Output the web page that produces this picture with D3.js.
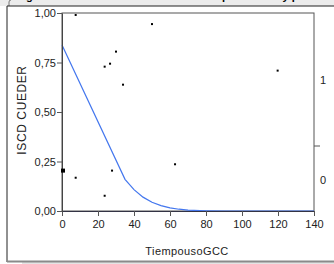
<!DOCTYPE html>
<html>
<head>
<meta charset="utf-8">
<script src="https://cdn.jsdelivr.net/npm/d3@7"></script>
<style>
  body { margin: 0; background: #fff; }
  svg text { font-family: "Liberation Sans", Arial, sans-serif; }
</style>
</head>
<body>
<div class="container"></div>
<script>
// scatter points (TiempousoGCC, ISCD CUEDER)
const pointX = [7.6, 50, 30, 26.7, 23.7, 33.9, 119.8, 7.6, 27.8, 23.7, 62.8];
const pointY = [0.99, 0.944, 0.805, 0.744, 0.729, 0.638, 0.709, 0.168, 0.204, 0.077, 0.236];
// the bigger marker at x = 0
const bigX = [0];
const bigY = [0.204];

// fitted curve
const curveX = [0, 35, 40, 45, 50, 55, 60, 65, 70, 80, 90, 140];
const curveY = [0.838, 0.16, 0.108, 0.07, 0.044, 0.027, 0.016, 0.009, 0.004, 0.001, 0, 0];

const xTicks = [0, 20, 40, 60, 80, 100, 120, 140];
const yTicks = [0, 0.25, 0.5, 0.75, 1];
const rightLabels = ["0", "1"];

const width = 334;
const height = 264;
const mLeft = 62, mRight = 314, mTop = 13, mBottom = 211;

const svg = d3.select("div.container")
  .append("svg")
  .attr("width", width)
  .attr("height", height);

// window-ish frame; the title is scrolled off, only its descenders show
svg.append("rect").attr("x", 0).attr("y", 0).attr("width", width).attr("height", 6).attr("fill", "#ececec");
svg.append("path").attr("d", "M9,6 V2 Q9,0 11,0").attr("fill", "none").attr("stroke", "#777");
svg.append("clipPath").attr("id", "topclip")
  .append("rect").attr("x", 0).attr("y", 0).attr("width", width).attr("height", 5);
svg.append("text").attr("clip-path", "url(#topclip)")
  .attr("x", 12).attr("y", 0)
  .attr("font-size", 11).attr("font-weight", "bold")
  .text("Regresión de ISCD CUEDER sobre TiempousoGCC y pronóstico");
svg.append("line").attr("x1", 7).attr("x2", width).attr("y1", 6).attr("y2", 6).attr("stroke", "#222");
svg.append("line").attr("x1", 7).attr("x2", 7).attr("y1", 6).attr("y2", 262).attr("stroke", "#222");
svg.append("rect").attr("x", 22).attr("y", 262).attr("width", width).attr("height", 2).attr("fill", "#e4e4e4");
svg.append("line").attr("x1", 7).attr("x2", width).attr("y1", 261.5).attr("y2", 261.5).attr("stroke", "#8a8a8a").attr("stroke-width", 2);

const xScale = d3.scaleLinear().domain([0, 140]).range([mLeft, mRight]);
const yScale = d3.scaleLinear().domain([0, 1]).range([mBottom, mTop]);
const rScale = d3.scaleLinear().domain([0, 1]).range([180, 80]);

// plot frame
svg.append("rect")
  .attr("x", mLeft).attr("y", mTop)
  .attr("width", mRight - mLeft).attr("height", mBottom - mTop)
  .attr("fill", "none").attr("stroke", "#555");

// curve
const line = d3.line().x(d => xScale(d[0])).y(d => yScale(d[1]));
svg.append("path")
  .datum(d3.zip(curveX, curveY))
  .attr("d", line)
  .attr("fill", "none")
  .attr("stroke", "#4477ee")
  .attr("stroke-width", 1.2);

// axes
const xAxis = svg.append("g").attr("transform", `translate(0,${mBottom})`)
  .call(d3.axisBottom(xScale).tickValues(xTicks).tickSize(5).tickSizeOuter(0).tickFormat(d3.format("d")));
const yAxis = svg.append("g").attr("transform", `translate(${mLeft},0)`)
  .call(d3.axisLeft(yScale).tickValues(yTicks).tickSize(5).tickSizeOuter(0).tickFormat(d => d.toFixed(2).replace(".", ",")));
[xAxis, yAxis].forEach(g => {
  g.selectAll("text").attr("font-size", 11).attr("fill", "#222").style("font-family", "'Liberation Sans', Arial, sans-serif");
  g.selectAll("line").attr("stroke", "#555");
  g.select(".domain").attr("stroke", "#444");
});
xAxis.select(".domain").attr("stroke", "#334");
xAxis.selectAll("text").attr("dy", "1em").attr("y", 6);
yAxis.selectAll("text").attr("x", -6);

// right axis: labels and a single tick
const rAxis = svg.append("g").attr("transform", `translate(${mRight},0)`);
rAxis.selectAll("text").data(rightLabels).enter().append("text")
  .attr("x", 6).attr("y", (d, i) => rScale(i)).attr("dy", "0.35em")
  .attr("font-size", 11).attr("fill", "#222").text(d => d);
rAxis.append("line").attr("x1", 0).attr("x2", 6)
  .attr("y1", rScale(0.34)).attr("y2", rScale(0.34)).attr("stroke", "#555");

// points
svg.selectAll("rect.pt").data(d3.zip(pointX, pointY)).enter().append("rect")
  .attr("class", "pt")
  .attr("x", d => xScale(d[0]) - 1).attr("y", d => yScale(d[1]) - 1)
  .attr("width", 2).attr("height", 2).attr("fill", "#000");
svg.selectAll("rect.big").data(d3.zip(bigX, bigY)).enter().append("rect")
  .attr("class", "big")
  .attr("x", d => xScale(d[0]) - 1).attr("y", d => yScale(d[1]) - 2)
  .attr("width", 4).attr("height", 4).attr("fill", "#000");

// axis titles
svg.append("text").attr("x", 187).attr("y", 255).attr("text-anchor", "middle")
  .attr("font-size", 11).attr("letter-spacing", 0.4).attr("fill", "#222").text("TiempousoGCC");
svg.append("text").attr("transform", "translate(26,110) rotate(-90)").attr("text-anchor", "middle")
  .attr("font-size", 12).attr("letter-spacing", 0.6).attr("fill", "#222").text("ISCD CUEDER");
</script>
</body>
</html>
